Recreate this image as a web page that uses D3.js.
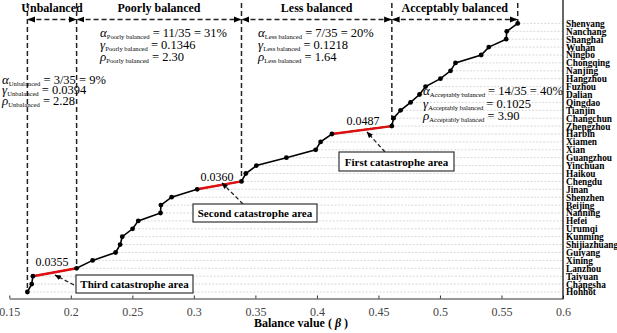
<!DOCTYPE html>
<html><head><meta charset="utf-8">
<script src="https://cdn.jsdelivr.net/npm/d3@7"></script>
<style>body{margin:0;background:#fff}svg{display:block}text{font-family:"Liberation Serif","Times New Roman",serif}</style>
</head><body><svg id="c" width="617" height="333"></svg>
<script>
const cities = ["Shenyang","Nanchang","Shanghai","Wuhan","Ningbo","Chongqing","Nanjing","Hangzhou","Fuzhou","Dalian","Qingdao","Tianjin","Changchun","Zhengzhou","Harbin","Xiamen","Xian","Guangzhou","Yinchuan","Haikou","Chengdu","Jinan","Shenzhen","Beijing","Nanning","Hefei","Urumqi","Kunming","Shijiazhuang","Guiyang","Xining","Lanzhou","Taiyuan","Changsha","Hohhot"];
const values = [0.5632,0.5543,0.5538,0.5397,0.5335,0.5126,0.5086,0.5004,0.4883,0.4834,0.4761,0.4680,0.4623,0.4609,0.4122,0.4030,0.3990,0.3752,0.3508,0.3422,0.3387,0.3027,0.2819,0.2732,0.2729,0.2548,0.2502,0.2418,0.2401,0.2364,0.2177,0.2047,0.1692,0.1682,0.1647];
const xTicks = [0.15,0.2,0.25,0.3,0.35,0.4,0.45,0.5,0.55,0.6];
const xTickLabels = ["0.15","0.2","0.25","0.3","0.35","0.4","0.45","0.5","0.55","0.6"];
const sectionNames = ["Unbalanced","Poorly balanced","Less balanced","Acceptably balanced"];
const sectionBounds = ["Hohhot","Lanzhou","Chengdu","Zhengzhou","Shenyang"];
const sectionAlpha = ["3/35 = 9%","11/35 = 31%","7/35 = 20%","14/35 = 40%"];
const sectionGamma = ["0.0394","0.1346","0.1218","0.1025"];
const sectionRho = ["2.28","2.30","1.64","3.90"];
const catastrophes = [["Harbin","Zhengzhou"],["Jinan","Chengdu"],["Taiyuan","Lanzhou"]];
const gapLabels = ["0.0487","0.0360","0.0355"];
const boxLabels = ["First catastrophe area","Second catastrophe area","Third catastrophe area"];

const svg = d3.select("#c");
const x = d3.scaleLinear().domain([0.15,0.6]).range([9.3,563]);
const y = d3.scalePoint().domain(cities).range([23.4,292]);
const val = {}; cities.forEach((c,i)=>val[c]=values[i]);
const data = cities.map((c,i)=>({c, v:values[i]}));

const defs = svg.append("defs");
defs.append("marker").attr("id","ah").attr("viewBox","0 0 10 10").attr("refX",9).attr("refY",5)
  .attr("markerWidth",5).attr("markerHeight",5).attr("orient","auto-start-reverse")
  .append("path").attr("d","M0,1L10,5L0,9Z").attr("fill","#000");

// gridlines from point to right axis
svg.append("g").selectAll("line").data(data).join("line")
  .attr("x1",d=>x(d.v)+2).attr("x2",x(0.6)).attr("y1",d=>y(d.c)).attr("y2",d=>y(d.c))
  .attr("stroke","#c8c8c8").attr("stroke-width",0.7).attr("stroke-dasharray","2,1.5");

// bottom axis
const xa = svg.append("g").attr("transform","translate(0,298.5)")
  .call(d3.axisBottom(x).tickValues(xTicks).tickFormat((d,i)=>xTickLabels[i]).tickSize(-3).tickSizeOuter(0));
xa.select(".domain").attr("stroke","#333");
xa.selectAll(".tick line").attr("stroke","#333");
xa.selectAll(".tick text").attr("font-size",12).attr("fill","#444").attr("dy","1.05em").attr("y",5);
// right axis
const ya = svg.append("g").attr("transform",`translate(${x(0.6)},0)`)
  .call(d3.axisRight(y).tickSize(0).tickPadding(3));
ya.select(".domain").attr("d","M0,0V299").attr("stroke","#000").attr("stroke-width",1.2);
ya.selectAll(".tick text").attr("font-size",9.3).attr("font-weight","bold").attr("fill","#000");

// section boundaries
sectionBounds.forEach(c=>{
  svg.append("line").attr("x1",x(val[c])).attr("x2",x(val[c])).attr("y1",3).attr("y2",y(c))
    .attr("stroke","#222").attr("stroke-width",1.5).attr("stroke-dasharray","5,3");
});
sectionNames.forEach((n,i)=>{
  const a = x(val[sectionBounds[i]]), b = x(val[sectionBounds[i+1]]);
  svg.append("line").attr("x1",a+1).attr("x2",b-1).attr("y1",19.5).attr("y2",19.5)
    .attr("stroke","#222").attr("stroke-width",1.5).attr("stroke-dasharray","5,3")
    .attr("marker-start","url(#ah)").attr("marker-end","url(#ah)");
  svg.append("text").attr("x",(a+b)/2).attr("y",12).attr("text-anchor","middle")
    .attr("font-size",12).attr("font-weight","bold").text(n);
});

// curve
svg.append("path").datum(data).attr("fill","none").attr("stroke","#000").attr("stroke-width",1.6)
  .attr("d",d3.line().x(d=>x(d.v)).y(d=>y(d.c)));
catastrophes.forEach(([a,b])=>{
  svg.append("line").attr("x1",x(val[a])).attr("y1",y(a)).attr("x2",x(val[b])).attr("y2",y(b))
    .attr("stroke","#e01010").attr("stroke-width",2.4);
});
svg.append("g").selectAll("circle").data(data).join("circle")
  .attr("cx",d=>x(d.v)).attr("cy",d=>y(d.c)).attr("r",2.4).attr("fill","#000");

// gap labels
const gapPos = [[363,125],[217,181],[52,266]];
gapLabels.forEach((g,i)=>svg.append("text").attr("x",gapPos[i][0]).attr("y",gapPos[i][1])
  .attr("text-anchor","middle").attr("font-size",12).text(g));

// catastrophe boxes + arrows
const boxes = [[339,152,115,19,385,152,367,132],[193,204,124,18,243,204,222,183],[76,275,117,18,74,285,55,275]];
boxLabels.forEach((t,i)=>{
  const [bx,by,bw,bh,ax1,ay1,ax2,ay2] = boxes[i];
  svg.append("line").attr("x1",ax1).attr("y1",ay1).attr("x2",ax2).attr("y2",ay2)
    .attr("stroke","#222").attr("stroke-width",1.3).attr("stroke-dasharray","4,2.5").attr("marker-end","url(#ah)");
  svg.append("rect").attr("x",bx).attr("y",by).attr("width",bw).attr("height",bh)
    .attr("fill","#fff").attr("stroke","#333").attr("stroke-width",1.2);
  svg.append("text").attr("x",bx+bw/2).attr("y",by+bh/2+4).attr("text-anchor","middle")
    .attr("font-size",11).attr("font-weight","bold").text(t);
});

// section statistics
const statPos = [[2,84,10.3],[100,37,12],[258,37,12],[423,95,12.5]];
function eq(px,py,sym,sub,rhs){
  const t = svg.append("text").attr("x",px).attr("y",py).attr("font-size",12.5);
  t.append("tspan").attr("font-style","italic").attr("font-size",13).text(sym);
  t.append("tspan").attr("font-size",6.6).attr("dy",2).text(sub);
  t.append("tspan").attr("dy",-2).text(" = "+rhs);
}
sectionNames.forEach((n,i)=>{
  const [px,py,dy] = statPos[i];
  eq(px,py,"α",n,sectionAlpha[i]);
  eq(px,py+dy,"γ",n,sectionGamma[i]);
  eq(px,py+2*dy,"ρ",n,sectionRho[i]);
});

// x title
const tt = svg.append("text").attr("x",301).attr("y",327).attr("text-anchor","middle")
  .attr("font-size",12).attr("font-weight","bold");
tt.append("tspan").text("Balance value ( ");
tt.append("tspan").attr("font-style","italic").text("β");
tt.append("tspan").text(" )");
</script></body></html>
